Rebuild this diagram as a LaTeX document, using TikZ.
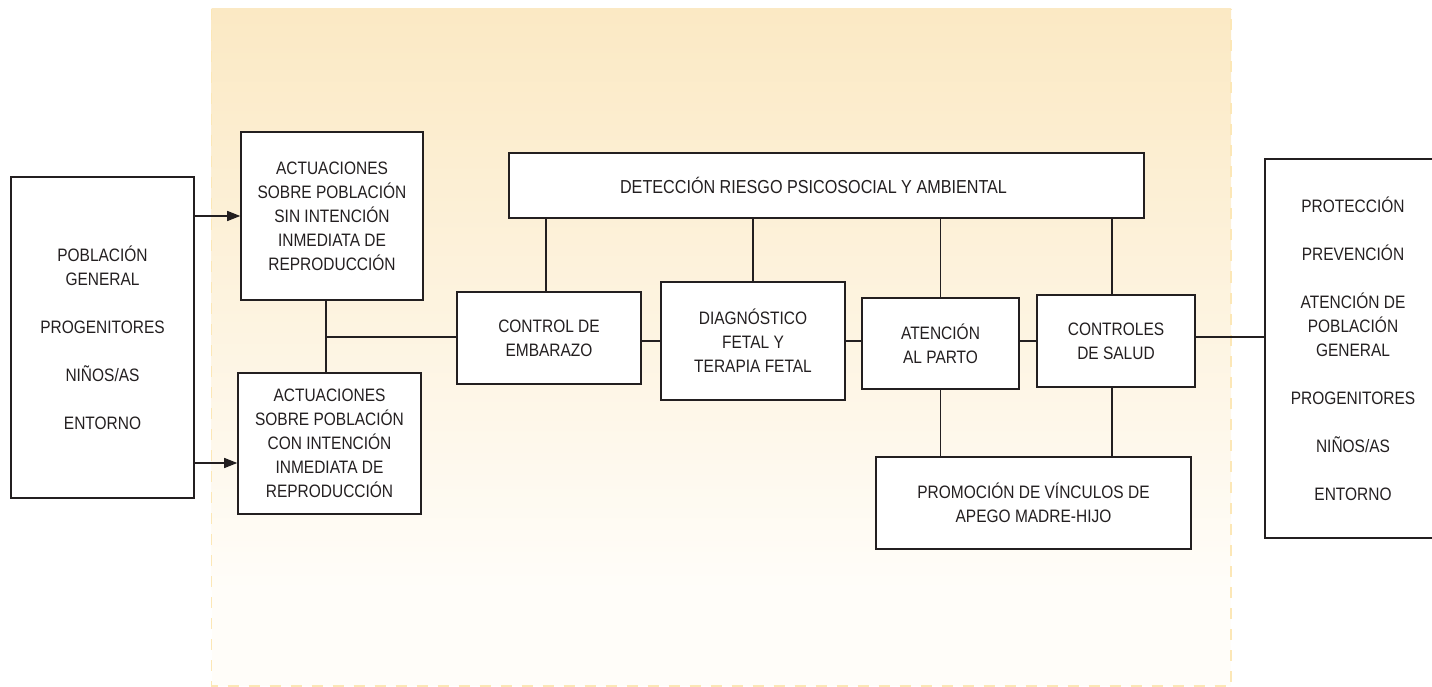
\documentclass[tikz,border=0pt]{standalone}
\usepackage{fontspec}
\setmainfont{Liberation Sans}[FakeStretch=0.86]
\usetikzlibrary{arrows.meta}
\definecolor{bgtop}{RGB}{251,233,196}
\definecolor{bgbot}{RGB}{255,253,249}
\definecolor{dashc}{RGB}{252,231,182}
\definecolor{ink}{RGB}{35,31,32}
\begin{document}
\begin{tikzpicture}[x=1pt,y=-1pt,
  box/.style={draw=ink,line width=1.6pt,fill=white,text=ink,align=center,inner sep=0pt,
    font=\fontsize{18}{24}\selectfont},
  conn/.style={draw=ink,line width=1.4pt},
  arr/.style={conn,-{Triangle[length=13pt,width=10pt]}}]
\useasboundingbox (0,0) rectangle (1432,687);
% background panel
\shade[top color=bgtop,bottom color=bgbot] (211.5,9) rectangle (1231,590);
\fill[bgbot] (211.5,590) rectangle (1231,686);
\draw[dashc,line width=1.5pt,dash pattern=on 11pt off 10pt] (211.5,9) -- (211.5,686) -- (1231,686) -- (1231,9);
% nodes
\node[box,minimum width=183pt,minimum height=321pt] (pob) at (102.5,337.5)
  {POBLACIÓN\\GENERAL\\[24pt]PROGENITORES\\[24pt]NIÑOS/AS\\[24pt]ENTORNO};
\node[box,minimum width=182pt,minimum height=168pt] (act1) at (332,216)
  {ACTUACIONES\\SOBRE POBLACIÓN\\SIN INTENCIÓN\\INMEDIATA DE\\REPRODUCCIÓN};
\node[box,minimum width=183pt,minimum height=141pt] (act2) at (329.5,443.5)
  {ACTUACIONES\\SOBRE POBLACIÓN\\CON INTENCIÓN\\INMEDIATA DE\\REPRODUCCIÓN};
\node[box,minimum width=635pt,minimum height=65pt] (det) at (826.5,185.5)
  {\hspace*{-26pt}\fontsize{18.8}{24}\selectfont DETECCIÓN RIESGO PSICOSOCIAL Y AMBIENTAL};
\node[box,minimum width=184pt,minimum height=92pt] (ctrl) at (549,338)
  {CONTROL DE\\EMBARAZO};
\node[box,minimum width=184pt,minimum height=118pt] (diag) at (753,341)
  {DIAGNÓSTICO\\FETAL Y\\TERAPIA FETAL};
\node[box,minimum width=157pt,minimum height=91pt] (att) at (940.5,343.5)
  {ATENCIÓN\\AL PARTO};
\node[box,minimum width=158pt,minimum height=92pt] (ctl) at (1116,341)
  {CONTROLES\\DE SALUD};
\node[box,minimum width=315pt,minimum height=92pt] (prom) at (1033.5,503)
  {PROMOCIÓN DE VÍNCULOS DE\\APEGO MADRE-HIJO};
\node[box,minimum width=176pt,minimum height=379pt] (out) at (1353,348.5)
  {PROTECCIÓN\\[24pt]PREVENCIÓN\\[24pt]ATENCIÓN DE\\POBLACIÓN\\GENERAL\\[24pt]PROGENITORES\\[24pt]NIÑOS/AS\\[24pt]ENTORNO};
% connectors
\coordinate (j) at (326,337);
\coordinate (a2in) at (194,463);
\coordinate (cx1) at (546,0);
\coordinate (cx4) at (1112,0);
\draw[arr] (pob.east |- act1.west) -- (act1.west);
\draw[arr] (a2in) -- (a2in -| act2.west);
\draw[conn] (act1.south -| j) -- (act2.north -| j);
\draw[conn] (j) -- (j -| ctrl.west);
\draw[conn] (diag.west -| ctrl.east) -- (diag.west);
\draw[conn] (diag.east) -- (diag.east -| att.west);
\draw[conn] (ctl.west -| att.east) -- (ctl.west);
\draw[conn] (j -| ctl.east) -- (j -| out.west);
\draw[conn] (det.south -| cx1) -- (ctrl.north -| cx1);
\draw[conn] (det.south -| diag.north) -- (diag.north);
\draw[conn] (det.south -| att.north) -- (att.north);
\draw[conn] (det.south -| cx4) -- (ctl.north -| cx4);
\draw[conn] (att.south) -- (att.south |- prom.north);
\draw[conn] (ctl.south -| cx4) -- (prom.north -| cx4);
\end{tikzpicture}
\end{document}
